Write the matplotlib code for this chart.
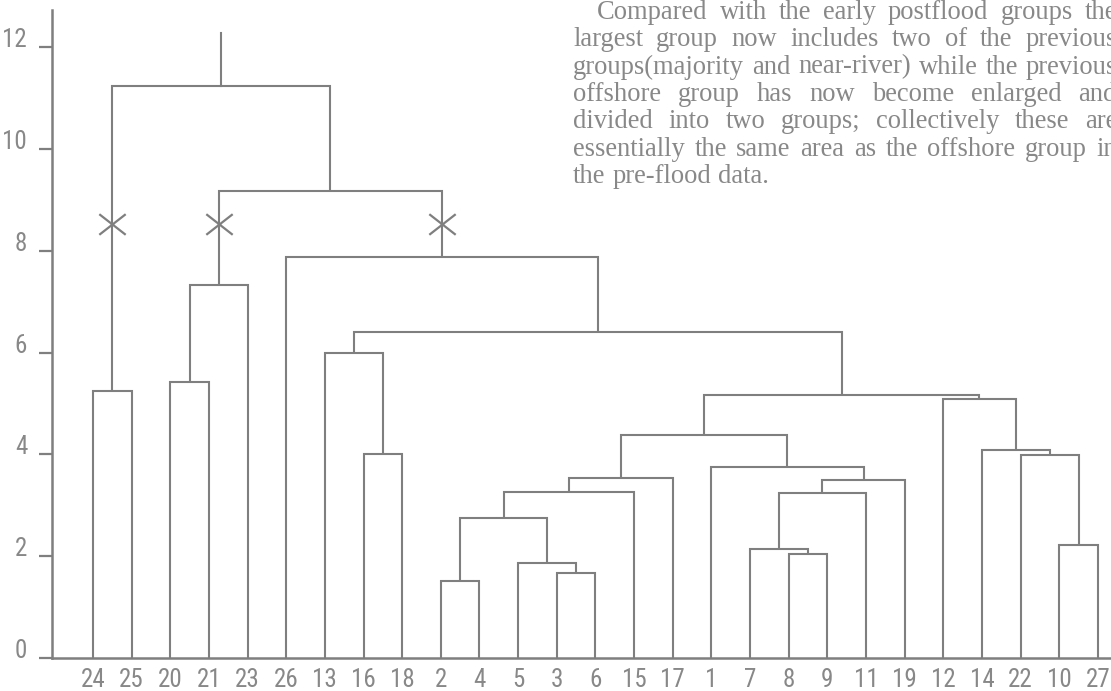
import matplotlib
matplotlib.use("Agg")
import matplotlib.pyplot as plt
from matplotlib import font_manager
from matplotlib.path import Path

# leaf order along the bottom
labels = ['24', '25', '20', '21', '23', '26', '13', '16', '18', '2', '4', '5', '3',
          '6', '15', '17', '1', '7', '8', '9', '11', '19', '12', '14', '22', '10', '27']

# merges, scipy style: leaves are 0..26, merge k makes node 27+k
merge_left = [0, 2, 28, 7, 6, 9, 12, 11, 32, 35, 36, 18, 17, 39, 40, 16, 37, 25, 24, 23, 22, 43, 31, 5, 29, 27]
merge_right = [1, 3, 4, 8, 30, 10, 13, 33, 34, 14, 15, 19, 38, 20, 21, 41, 42, 26, 44, 45, 46, 47, 48, 49, 50, 51]
merge_height = [5.25, 5.42, 7.33, 4.0, 5.99, 1.51, 1.67, 1.86, 2.75, 3.26, 3.54, 2.04, 2.14,
                3.24, 3.50, 3.75, 4.38, 2.22, 3.99, 4.09, 5.09, 5.17, 6.40, 7.88, 9.17, 11.24]
top_stem = 12.28

# cut marks
cut_nodes = [27, 29, 50]
cut_height = 8.53

yticks = [0, 2, 4, 6, 8, 10, 12]

para = ["Compared with the early postflood groups the",
        "largest group now includes two of the previous",
        "groups(majority and near-river) while the previous",
        "offshore group has now become enlarged and",
        "divided into two groups; collectively these are",
        "essentially the same area as the offshore group in",
        "the pre-flood data."]

W, H = 1111, 691
line_c = '#7f7f7f'
text_c = '#888888'

# narrow sans for the numbers if there is one
names = {f.name for f in font_manager.fontManager.ttflist}
num_font, num_size = 'Roboto', 16
for cand in ['Liberation Sans Narrow', 'Roboto Condensed', 'Open Sans Condensed',
             'DejaVu Sans Condensed']:
    if cand in names:
        num_font, num_size = cand, 18
        break
else:
    for f in font_manager.fontManager.ttflist:
        if f.stretch in ('condensed', 'semi-condensed') and 'Sans' in f.name:
            num_font, num_size = f.name, 17
            break

fig = plt.figure(figsize=(W / 100, H / 100), dpi=100)
fig.patch.set_facecolor('white')
ax = fig.add_axes([52 / W, 33 / H, (W - 52) / W, 648 / H])

# node positions
xs = {i: float(i) for i in range(len(labels))}
hs = {i: 0.0 for i in range(len(labels))}
lw = 1.5
for k, (a, b, h) in enumerate(zip(merge_left, merge_right, merge_height)):
    node = len(labels) + k
    ax.plot([xs[a], xs[a], xs[b], xs[b]], [hs[a], h, h, hs[b]],
            color=line_c, lw=lw, solid_joinstyle='miter', solid_capstyle='butt')
    xs[node] = (xs[a] + xs[b]) / 2
    hs[node] = h

root = len(labels) + len(merge_height) - 1
ax.plot([xs[root], xs[root]], [hs[root], top_stem], color=line_c, lw=lw)

xmark = Path([(-1, -0.78), (1, 0.78), (-1, 0.78), (1, -0.78)],
             [Path.MOVETO, Path.LINETO, Path.MOVETO, Path.LINETO])
ax.plot([xs[n] for n in cut_nodes], [cut_height] * len(cut_nodes), ls='none',
        marker=xmark, ms=19, mew=1.6, color=line_c)

ax.set_xlim(-1.06, 26.34)
ax.set_ylim(0, 12.73)
for s in ['top', 'right']:
    ax.spines[s].set_visible(False)
for s in ['left', 'bottom']:
    ax.spines[s].set_color(line_c)
    ax.spines[s].set_linewidth(1.8)

ax.set_xticks(range(len(labels)))
ax.set_xticklabels(labels, fontfamily=num_font, fontsize=num_size, color=text_c)
ax.tick_params(axis='x', length=0, pad=7)
ax.set_yticks(yticks)
ax.set_yticklabels([str(v) for v in yticks], fontfamily=num_font, fontsize=num_size,
                   color=text_c, va='baseline')
ax.tick_params(axis='y', length=9.4, width=1.6, color=line_c, pad=8.5)

# justified paragraph, top right; size picked so the tightest line just fits
renderer = fig.canvas.get_renderer()
right = 1117
probe = fig.text(0, 0, para[2], family='Liberation Serif', fontsize=20)
psize = 20 * (right - 573) / probe.get_window_extent(renderer).width * 0.99
probe.remove()

base0, step = 19, 27.3
for k, line in enumerate(para):
    left = 597 if k == 0 else 573
    y = base0 + step * k
    words = line.split()
    objs = [fig.text(0, 1 - y / H, w, family='Liberation Serif', fontsize=psize,
                     color=text_c, va='baseline', ha='left') for w in words]
    widths = [t.get_window_extent(renderer).width for t in objs]
    if k == len(para) - 1:
        gap = psize * 0.35
    else:
        gap = (right - left - sum(widths)) / (len(words) - 1)
    x = left
    for t, w in zip(objs, widths):
        t.set_x(x / W)
        x += w + gap

fig.savefig('out.png', dpi=100)
